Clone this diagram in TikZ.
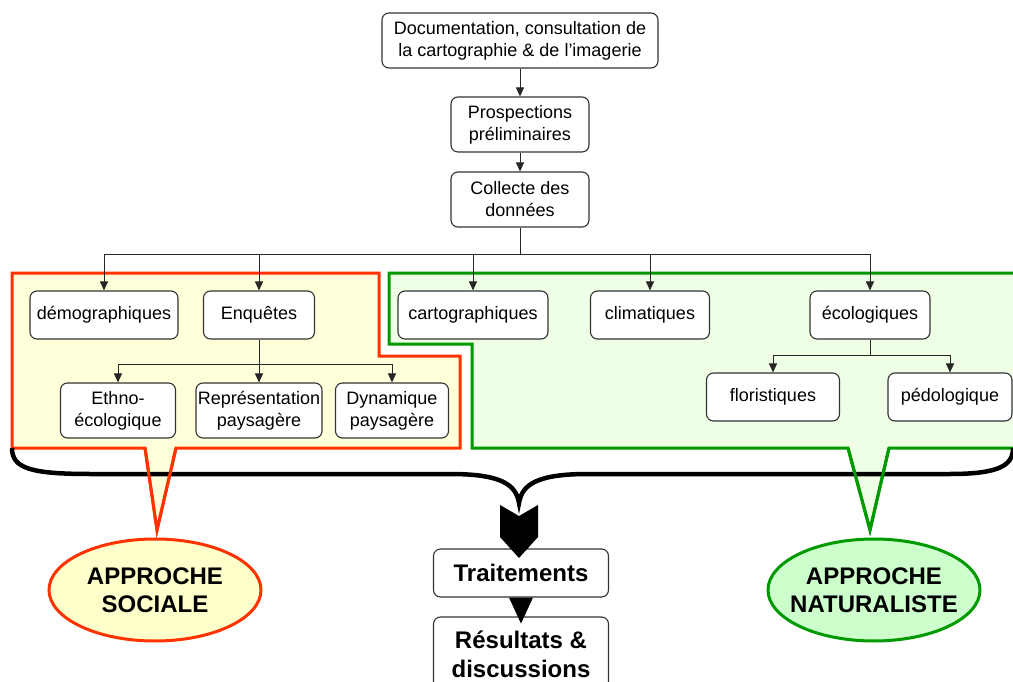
\documentclass[tikz,border=0pt]{standalone}
\usepackage{fontspec}
\setmainfont{Liberation Sans}
\usetikzlibrary{arrows.meta,shapes.geometric}
\definecolor{socred}{HTML}{FF3300}
\definecolor{socfill}{HTML}{FFFFDA}
\definecolor{socell}{HTML}{FFFFCC}
\definecolor{natgreen}{HTML}{009900}
\definecolor{natfill}{HTML}{EEFFE6}
\definecolor{natell}{HTML}{CCFFCC}

\begin{document}
\begin{tikzpicture}[x=1pt,y=-1pt,
	box/.style={draw=black!80,line width=1.1pt,rounded corners=7pt,fill=white,align=center,inner sep=0pt,font=\fontsize{18}{22}\selectfont},
	bigbox/.style={box,font=\fontsize{24}{29}\selectfont\bfseries},
	arr/.style={draw=black!85,line width=1pt,-{Triangle[length=9pt,width=8pt]}},
	link/.style={draw=black!85,line width=1pt},
	zone/.style={line width=3pt,line join=miter},
	approach/.style={ellipse,line width=3pt,inner sep=0pt,minimum width=212pt,minimum height=102pt},
	approachtxt/.style={align=center,inner sep=0pt,font=\fontsize{24}{28}\selectfont\bfseries}
]
	\useasboundingbox (0,0) rectangle (1013,682);
	\clip (0,0) rectangle (1013,682);

	\draw[zone,draw=socred,fill=socfill] (12,273) -- (379,273) -- (379,356) -- (460,356) -- (460,448) -- (176,448) -- (157,530) -- (145,448) -- (12,448) -- cycle;
	\draw[zone,draw=natgreen,fill=natfill] (389,273) -- (1030,273) -- (1030,448) -- (889,448) -- (870,530) -- (848,448) -- (472,448) -- (472,344) -- (389,344) -- cycle;

	\draw[line width=4.5pt] (12,448) .. controls (12,468) and (30,474) .. (90,474) -- (450,474) .. controls (500,474) and (516,484) .. (519,503) .. controls (522,484) and (538,474) .. (588,474) -- (950,474) .. controls (1000,474) and (1013,465) .. (1013,448);
	\draw[zone,draw=socred] (145,448) -- (157,530) -- (176,448);
	\draw[zone,draw=natgreen] (848,448) -- (870,530) -- (889,448);

	\node[box,minimum width=276,minimum height=55] at (520,40.5) (doc) {Documentation, consultation de\\la cartographie \& de l’imagerie};
	\node[box,minimum width=138,minimum height=55] at (520,124.5) (prosp) {Prospections\\préliminaires};
	\node[box,minimum width=138,minimum height=55] at (520,199.5) (collecte) {Collecte des\\données};
	\coordinate (j1) at (520,254);
	\draw[arr] (doc) -- (prosp);
	\draw[arr] (prosp) -- (collecte);
	\draw[link] (collecte) -- (j1);

	\node[box,minimum width=148,minimum height=48] at (104,315) (demo) {démographiques};
	\node[box,minimum width=111,minimum height=48] at (259,315) (enq) {Enquêtes};
	\node[box,minimum width=150,minimum height=48] at (473,315) (carto) {cartographiques};
	\node[box,minimum width=119,minimum height=48] at (650,315) (clim) {climatiques};
	\node[box,minimum width=120,minimum height=48] at (870,315) (eco) {écologiques};
	\draw[arr] (j1) -| (demo);
	\draw[arr] (j1) -| (enq);
	\draw[arr] (j1) -| (carto);
	\draw[arr] (j1) -| (clim);
	\draw[arr] (j1) -| (eco);

	\node[box,minimum width=115,minimum height=55] at (118,410.5) (ethno) {Ethno-\\écologique};
	\node[box,minimum width=126,minimum height=55] at (259,410.5) (repr) {Représentation\\paysagère};
	\node[box,minimum width=113,minimum height=55] at (392,410.5) (dyn) {Dynamique\\paysagère};
	\coordinate (j2) at (259,364);
	\draw[link] (enq) -- (j2);
	\draw[arr] (j2) -| (ethno);
	\draw[arr] (j2) -- (repr);
	\draw[arr] (j2) -| (dyn);

	\node[box,minimum width=133,minimum height=48] at (773,397) (flor) {floristiques};
	\node[box,minimum width=124,minimum height=48] at (950,397) (pedo) {pédologique};
	\coordinate (j3) at (870,355);
	\draw[link] (eco) -- (j3);
	\draw[arr] (j3) -| (flor);
	\draw[arr] (j3) -| (pedo);

	\node[bigbox,minimum width=175,minimum height=48] at (521,573) (trait) {Traitements};
	\node[bigbox,minimum width=175,minimum height=74] at (521,654) (result) {Résultats \&\\discussions};
	\fill (500,505) -- (519,516) -- (538,505) -- (538,537) -- (519,558) -- (500,537) -- cycle;
	\fill ([xshift=-12pt]trait.south) -- ([xshift=12pt]trait.south) -- ([yshift=-26pt]trait.south) -- cycle;

	\node[approach,draw=socred,fill=socell] at (155,590) (sociale) {};
	\node[approachtxt] at (sociale) (socialetxt) {APPROCHE\\SOCIALE};
	\node[approach,draw=natgreen,fill=natell] at (874,590) (natur) {};
	\node[approachtxt] at (natur) (naturtxt) {APPROCHE\\NATURALISTE};

\end{tikzpicture}
\end{document}
